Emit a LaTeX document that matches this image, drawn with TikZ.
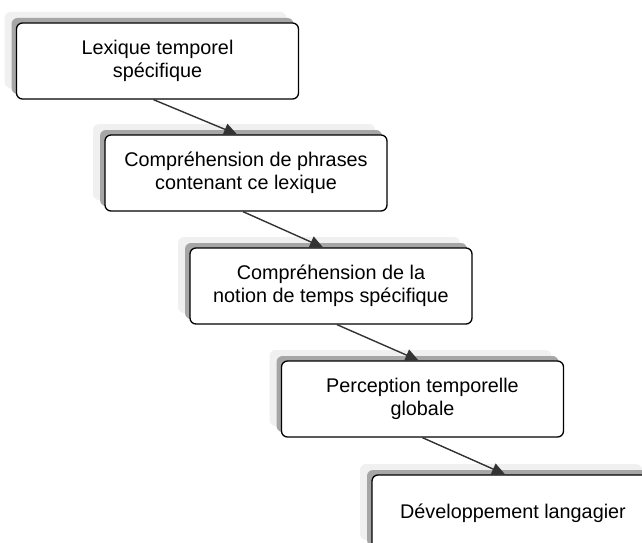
\documentclass[tikz,border=0pt]{standalone}
\usepackage{fontspec}
\setmainfont{Liberation Sans}
\usetikzlibrary{shadows,arrows.meta}
\begin{document}
\begin{tikzpicture}[x=1pt,y=-1pt,
  stepbox/.style={draw=black, rounded corners=6pt, fill=white, line width=1.3pt,
    minimum width=282pt, minimum height=76pt, align=center, inner sep=0pt,
    font=\fontsize{19.8}{23}\selectfont,
    general shadow={fill=black!6, shadow xshift=-12pt, shadow yshift=11pt},
    general shadow={fill=black!35, shadow xshift=-5pt, shadow yshift=5pt}},
  link/.style={draw=black!80, line width=1.4pt, -{Triangle[length=13pt,width=12pt]}}]
\useasboundingbox (0,0) rectangle (642,543);
\clip (0,0) rectangle (642,543);
\node[stepbox] (b1) at (157.5,61) {Lexique temporel\\spécifique};
\node[stepbox] (b2) at (246,173) {Compréhension de phrases\\contenant ce lexique};
\node[stepbox] (b3) at (331,286) {Compréhension de la\\notion de temps spécifique};
\node[stepbox] (b4) at (422.5,399) {Perception temporelle\\globale};
\node[stepbox] (b5) at (513,513) {Développement langagier};
\draw[link] ([xshift=-4pt]b1.south) -- ([xshift=-9pt]b2.north);
\draw[link] ([xshift=-3pt]b2.south) -- ([xshift=-8pt]b3.north);
\draw[link] ([xshift=6pt]b3.south) -- ([xshift=-4pt]b4.north);
\draw[link] ([xshift=0pt]b4.south) -- ([xshift=-8pt]b5.north);
\end{tikzpicture}
\end{document}
